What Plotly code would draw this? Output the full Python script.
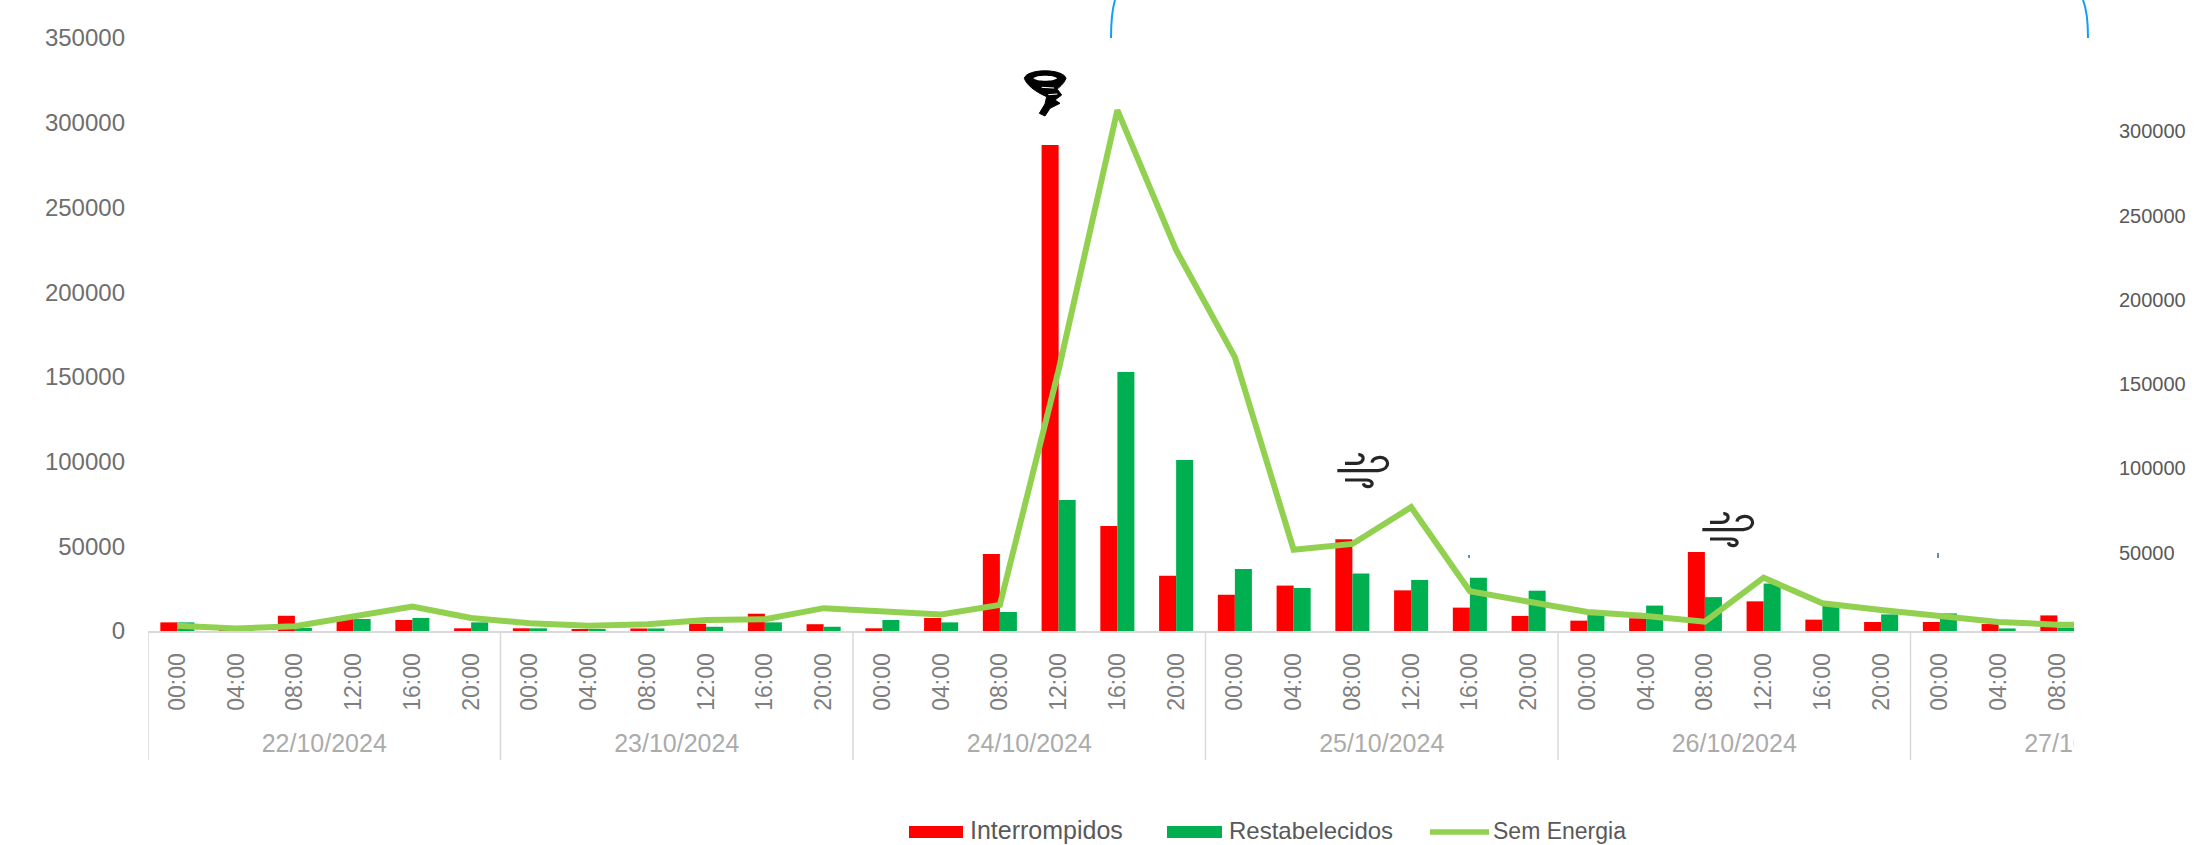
import plotly.graph_objects as go

dates = ["22/10/2024", "23/10/2024", "24/10/2024", "25/10/2024", "26/10/2024", "27/10/2024"]
hours = ["00:00", "04:00", "08:00", "12:00", "16:00", "20:00"] * 5 + ["00:00", "04:00", "08:00", "12:00"]
interrompidos = [5100, 1000, 9000, 8700, 6500, 1600,
                 1600, 1000, 1500, 4300, 10200, 4000,
                 1600, 7700, 45500, 286800, 62000, 32600,
                 21400, 26800, 54100, 24000, 13800, 8900,
                 6100, 7500, 46600, 17500, 6700, 5300,
                 5300, 4100, 9200, 0]
restabelecidos = [5100, 500, 1800, 7100, 7700, 5100,
                  1600, 1000, 1500, 2500, 5100, 2500,
                  6500, 5100, 11200, 77300, 152900, 101000,
                  36600, 25400, 34000, 30100, 31500, 23800,
                  9400, 15000, 20000, 28000, 14800, 9800,
                  10400, 1500, 2000, 0]
sem_energia = [6600, 5100, 6400, 12100, 18100, 11300,
               8100, 6600, 7600, 10100, 10600, 17100,
               15600, 13400, 19000, 158400, 312500, 229500,
               166000, 51800, 55200, 77000, 27100, 21000,
               14800, 12500, 9100, 35200, 20000, 16000,
               12100, 8900, 7300, 7000]
left_ticks = [0, 50000, 100000, 150000, 200000, 250000, 300000, 350000]
right_ticks = [50000, 100000, 150000, 200000, 250000, 300000]
legend_names = ["Interrompidos", "Restabelecidos", "Sem Energia"]
legend_colors = ["#FF0000", "#00B050", "#92D050"]

W, H = 2194, 845
L, R, T, B = 148, 2074, 38, 845
BASE = 631
FONT = "Liberation Sans"
idx = list(range(len(hours)))


def px(x):
    return (x - L) / (R - L)


def py(y):
    return (B - y) / (B - T)


def path(points):
    out = []
    for cmd, *xy in points:
        coords = [f"{px(xy[i]):.5f},{py(xy[i + 1]):.5f}" for i in range(0, len(xy), 2)]
        out.append(cmd + " ".join(coords))
    return " ".join(out)


def wind(ox, oy):
    def o(*a):
        return [ox + a[i] / 3 if i % 2 == 0 else oy + a[i] / 3 for i in range(len(a))]
    lines = [
        [("M", *o(135, 100)), ("L", *o(170, 100)), ("C", *o(195, 100, 195, 72, 175, 74))],
        [("M", *o(112, 122)), ("L", *o(235, 122)), ("C", *o(275, 118, 268, 80, 238, 82)),
         ("C", *o(225, 83, 217, 90, 216, 98))],
        [("M", *o(135, 150)), ("L", *o(200, 150)), ("C", *o(225, 152, 218, 172, 203, 170)),
         ("C", *o(195, 169, 191, 165, 190, 160))],
    ]
    return [dict(type="path", xref="paper", yref="paper", path=path(l),
                 line=dict(color="#262626", width=3.2)) for l in lines]


def tornado(ox, oy):
    def o(*a):
        return [ox + a[i] / 3 if i % 2 == 0 else oy + a[i] / 3 for i in range(len(a))]
    body = [("M", *o(133, 235)), ("C", *o(140, 205, 250, 205, 258, 235)),
            ("C", *o(250, 255, 235, 262, 232, 268)), ("L", *o(245, 285)), ("L", *o(225, 300)),
            ("L", *o(240, 310)), ("L", *o(210, 325)), ("L", *o(195, 348)), ("L", *o(178, 340)),
            ("L", *o(195, 312)), ("L", *o(200, 290)), ("C", *o(165, 275, 140, 255, 133, 235)), ("Z",)]
    hole = [("M", *o(160, 235)), ("C", *o(170, 225, 220, 225, 232, 235)),
            ("C", *o(220, 245, 170, 245, 160, 235)), ("Z",)]
    stripes = [[("M", *o(185, 262)), ("L", *o(222, 264))],
               [("M", *o(205, 284)), ("L", *o(232, 282))]]
    shapes = [dict(type="path", xref="paper", yref="paper", path=path(body),
                   fillcolor="#000000", line=dict(color="#000000", width=1)),
              dict(type="path", xref="paper", yref="paper", path=path(hole),
                   fillcolor="#FFFFFF", line=dict(width=0))]
    shapes += [dict(type="path", xref="paper", yref="paper", path=path(s),
                    line=dict(color="#FFFFFF", width=1)) for s in stripes]
    return shapes


fig = go.Figure()
fig.add_bar(x=idx, y=interrompidos, name=legend_names[0], marker_color=legend_colors[0],
            marker_line_width=0, showlegend=False)
fig.add_bar(x=idx, y=restabelecidos, name=legend_names[1], marker_color=legend_colors[1],
            marker_line_width=0, showlegend=False)
fig.add_scatter(x=idx, y=sem_energia, name=legend_names[2], mode="lines", yaxis="y2",
                line=dict(color=legend_colors[2], width=6), showlegend=False)

# date labels, clipped at the plot edge like the reference
group_x = [2.5 + 6 * i for i in range(len(dates))]
fig.add_scatter(x=group_x, y=[0.5] * len(dates), text=dates, mode="text", xaxis="x2", yaxis="y3",
                textfont=dict(family=FONT, size=25, color="#ABABAB"), cliponaxis=True,
                showlegend=False, hoverinfo="skip")

shapes = [dict(type="line", xref="x", yref="paper", x0=-0.5 + 6 * i, x1=-0.5 + 6 * i,
               y0=py(BASE), y1=py(760), line=dict(color="#D9D9D9", width=1.5)) for i in range(6)]
shapes += wind(1300, 430) + wind(1665, 489) + tornado(980, 0)
blue = "#0FA0F5"
shapes += [dict(type="path", xref="paper", yref="paper", line=dict(color=blue, width=2),
                path=path([("M", 1111, 38), ("C", 1111, 25, 1112, 10, 1115, 0)])),
           dict(type="path", xref="paper", yref="paper", line=dict(color=blue, width=2),
                path=path([("M", 2088, 38), ("C", 2088, 25, 2087, 10, 2083, 0)])),
           dict(type="line", xref="paper", yref="paper", x0=px(1469), x1=px(1469), y0=py(555), y1=py(558),
                line=dict(color="#1F6FA8", width=1.5)),
           dict(type="line", xref="paper", yref="paper", x0=px(1938), x1=px(1938), y0=py(553), y1=py(558),
                line=dict(color="#1F6FA8", width=1.5))]

# legend keys and labels
shapes += [dict(type="rect", xref="paper", yref="paper", x0=px(909), x1=px(963), y0=py(838), y1=py(826),
                fillcolor=legend_colors[0], line=dict(width=0)),
           dict(type="rect", xref="paper", yref="paper", x0=px(1167), x1=px(1222), y0=py(838), y1=py(826),
                fillcolor=legend_colors[1], line=dict(width=0)),
           dict(type="line", xref="paper", yref="paper", x0=px(1430), x1=px(1489), y0=py(832), y1=py(832),
                line=dict(color=legend_colors[2], width=5.5))]
annotations = [dict(text=name, xref="paper", yref="paper", x=px(x), y=py(845), xanchor="left", yanchor="bottom",
                    showarrow=False, borderpad=0, font=dict(family=FONT, size=size, color="#595959"))
               for name, x, size in zip(legend_names, [969, 1228, 1492], [25, 24, 23])]

x_range = [-0.5, -0.5 + (R - L) / 58.75]
split = py(BASE)
fig.update_layout(
    width=W, height=H, autosize=False, paper_bgcolor="white", plot_bgcolor="rgba(0,0,0,0)",
    margin=dict(l=L, r=W - R, t=T, b=H - B, pad=0),
    barmode="group", bargap=0.42, bargroupgap=0, showlegend=False,
    font=dict(family=FONT, color="#595959"),
    shapes=shapes, annotations=annotations,
    xaxis=dict(range=x_range, tickmode="array", tickvals=idx, ticktext=hours, tickangle=-90, automargin=False,
               anchor="y", showgrid=False, zeroline=False, showline=True, linecolor="#D9D9D9", linewidth=2,
               ticks="", ticklabelstandoff=11, tickfont=dict(size=23, color="#7F7F7F")),
    xaxis2=dict(matches="x", anchor="y3", visible=False, automargin=False),
    yaxis=dict(domain=[split, 1], range=[0, 350000], tickmode="array", tickvals=left_ticks, automargin=False,
               ticktext=[str(v) for v in left_ticks], showgrid=False, zeroline=False,
               showline=False, ticks="", ticklabelstandoff=22, tickfont=dict(size=24, color="#6E6E6E")),
    yaxis2=dict(overlaying="y", side="right", range=[(637 - BASE) / 1.686 * 1000, (637 - T) / 1.686 * 1000],
                tickmode="array", tickvals=right_ticks, ticktext=[str(v) for v in right_ticks], automargin=False,
                showgrid=False, zeroline=False, showline=False, ticks="", ticklabelstandoff=44,
                tickfont=dict(size=20, color="#595959")),
    yaxis3=dict(domain=[py(763), py(729)], range=[0, 1], anchor="x2", visible=False, automargin=False),
)
fig.write_html("out.html", config={"displayModeBar": False},
               post_script="document.body.style.margin='0';")
